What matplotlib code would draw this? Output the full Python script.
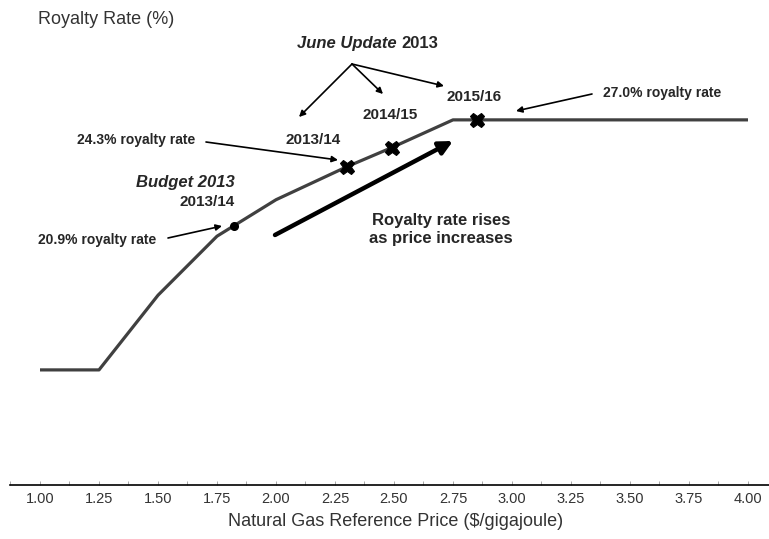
import numpy as np
import matplotlib.pyplot as plt
from matplotlib.ticker import FixedLocator, FixedFormatter

plt.rcParams['font.family'] = ['Liberation Sans', 'DejaVu Sans']

# royalty rate curve (price in $/GJ, rate in %)
price = [1.00, 1.25, 1.50, 1.75, 2.00, 2.30, 2.49, 2.75, 2.85, 4.00]
rate = [12.6, 12.6, 16.9, 20.3, 22.4, 24.3, 25.4, 27.0, 27.0, 27.0]

# highlighted points
budget_price = [1.82]
budget_rate = [20.9]
update_price = [2.30, 2.49, 2.85]
update_rate = [24.3, 25.4, 27.0]

tick_vals = [1.00, 1.25, 1.50, 1.75, 2.00, 2.25, 2.50, 2.75, 3.00, 3.25, 3.50, 3.75, 4.00]
tick_labels = ['%.2f' % v for v in tick_vals]

W, H = 769, 539


def fp(x, y):
    # pixel position (from top-left) -> figure fraction
    return (x / W, 1 - y / H)


fig = plt.figure(figsize=(W / 100, H / 100), dpi=100)
ax = fig.add_axes([10.5 / W, 1 - 484.5 / H, 1 - 10.5 / W, 444.5 / H])

ax.plot(price, rate, color='#404040', lw=2.3, solid_capstyle='butt', zorder=2)
ax.plot(budget_price, budget_rate, 'o', color='black', ms=5.5, zorder=3)
ax.plot(update_price, update_rate, 'X', color='black', mec='black', ms=10.5, mew=0.8, zorder=3)

ax.set_xlim(0.875, 4.089)
ax.set_ylim(6.0, 31.6)

for s in ['left', 'right', 'top']:
    ax.spines[s].set_visible(False)
ax.spines['bottom'].set_linewidth(1.2)
ax.spines['bottom'].set_color('black')
ax.set_yticks([])

ax.xaxis.set_major_locator(FixedLocator(tick_vals))
ax.xaxis.set_major_formatter(FixedFormatter(tick_labels))
ax.xaxis.set_minor_locator(FixedLocator(np.arange(0.875, 4.1, 0.25)))
ax.tick_params(axis='x', which='both', direction='in', length=3, width=0.6,
               color='#999999', pad=5.5)
ax.tick_params(axis='x', which='major', labelsize=10.5, labelcolor='#333333')

txt = '#262626'
fig.text(*fp(38, 20), 'Royalty Rate (%)', fontsize=13, color='#333333', va='center', ha='left')
fig.text(*fp(396, 522), 'Natural Gas Reference Price ($/gigajoule)', fontsize=13,
         color='#333333', va='center', ha='center')

# June Update annotations
fig.text(*fp(397, 48), 'June Update', fontsize=12, fontweight='bold', style='italic',
         color=txt, ha='right', va='baseline')
fig.text(*fp(401, 48), '2013', fontsize=12, fontweight='bold', color=txt, ha='left', va='baseline')

small_arrow = dict(arrowstyle='-|>', lw=1.2, color='black', mutation_scale=9, shrinkA=0, shrinkB=0)
for tip in [(299, 117), (383, 94), (444, 86)]:
    ax.annotate('', xy=fp(*tip), xytext=fp(352, 64), xycoords='figure fraction',
                textcoords='figure fraction', arrowprops=small_arrow)

fig.text(*fp(313, 140), '2013/14', fontsize=11, fontweight='bold', color=txt, ha='center', va='center')
fig.text(*fp(390, 115), '2014/15', fontsize=11, fontweight='bold', color=txt, ha='center', va='center')
fig.text(*fp(474, 97), '2015/16', fontsize=11, fontweight='bold', color=txt, ha='center', va='center')

fig.text(*fp(662, 93), '27.0% royalty rate', fontsize=10, fontweight='bold', color=txt,
         ha='center', va='center')
ax.annotate('', xy=fp(516, 111), xytext=fp(592, 94), xycoords='figure fraction',
            textcoords='figure fraction', arrowprops=small_arrow)

fig.text(*fp(136, 140), '24.3% royalty rate', fontsize=10, fontweight='bold', color=txt,
         ha='center', va='center')
ax.annotate('', xy=fp(338, 160), xytext=fp(206, 142), xycoords='figure fraction',
            textcoords='figure fraction', arrowprops=small_arrow)

# Budget 2013 annotations
fig.text(*fp(235, 183), 'Budget 2013', fontsize=12, fontweight='bold', style='italic',
         color=txt, ha='right', va='center')
fig.text(*fp(235, 202), '2013/14', fontsize=11, fontweight='bold', color=txt, ha='right', va='center')
fig.text(*fp(97, 240), '20.9% royalty rate', fontsize=10, fontweight='bold', color=txt,
         ha='center', va='center')
ax.annotate('', xy=fp(222, 226), xytext=fp(168, 238), xycoords='figure fraction',
            textcoords='figure fraction', arrowprops=small_arrow)

# trend arrow
ax.annotate('', xy=fp(453, 141), xytext=fp(275, 235), xycoords='figure fraction',
            textcoords='figure fraction',
            arrowprops=dict(arrowstyle='-|>', lw=3.2, color='black', mutation_scale=20,
                            shrinkA=0, shrinkB=0))
fig.text(*fp(441, 230), 'Royalty rate rises\nas price increases', fontsize=12,
         fontweight='bold', color=txt, ha='center', va='center', linespacing=1.25)

fig.savefig('out.png', dpi=100)
